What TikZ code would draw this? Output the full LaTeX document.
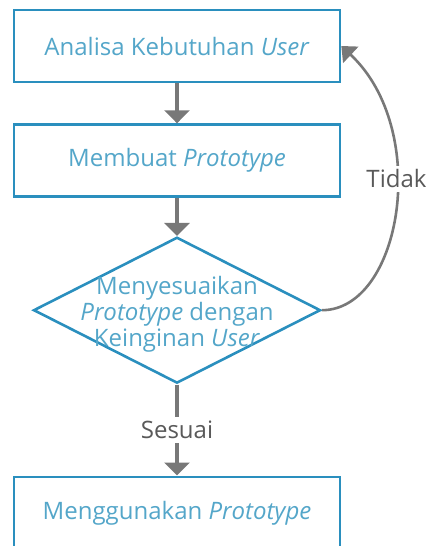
\documentclass[tikz,border=0pt]{standalone}
\usepackage{fontspec}
\setmainfont{Open Sans}
\usetikzlibrary{positioning,arrows.meta,shapes.geometric}

\definecolor{garis}{RGB}{42,143,190}
\definecolor{teks}{RGB}{84,166,201}
\definecolor{panah}{RGB}{120,120,120}

\begin{document}
\begin{tikzpicture}[
    font=\fontsize{24}{26}\selectfont,
    block/.style={
        draw=garis,
        line width=2.6pt,
        text=teks,
        minimum width=326pt,
        minimum height=72pt,
        align=center
    },
    decision/.style={
        draw=garis,
        line width=2.6pt,
        diamond,
        minimum width=287pt,
        minimum height=146pt,
        inner sep=0pt
    },
    arrow/.style={-{Triangle[length=13pt,width=25pt]}, line width=4pt, panah},
    ket/.style={fill=white, text=black!65, inner sep=4pt}
]
\useasboundingbox (0,0) rectangle (428pt,-546pt);

% ============================================================
% ALUR UTAMA
% ============================================================
\node[block] (analisa) at (177pt,-46pt) {Analisa Kebutuhan \textit{User}};
\node[block, below=40pt of analisa] (membuat) {Membuat \textit{Prototype}};
\node[decision, below=38pt of membuat] (cek) {};
\node[text=teks, align=center, yshift=-4pt] (cektext) at (cek.center)
    {Menyesuaikan\\\textit{Prototype} dengan\\Keinginan \textit{User}};
\node[block, below=91pt of cek] (pakai) {Menggunakan \textit{Prototype}};

\draw[arrow] (analisa) -- (membuat);
\draw[arrow] (membuat) -- (cek);
\draw[arrow] (cek) -- node[ket] {Sesuai} (pakai);

% kembali ke analisa jika belum sesuai
\draw[-{Triangle[length=13pt,width=22pt]}, line width=2.6pt, panah]
    (cek.east) .. controls +(80pt,0pt) and +(90pt,-84pt) .. node[ket, pos=0.59] {Tidak} (analisa.east);

\end{tikzpicture}
\end{document}
